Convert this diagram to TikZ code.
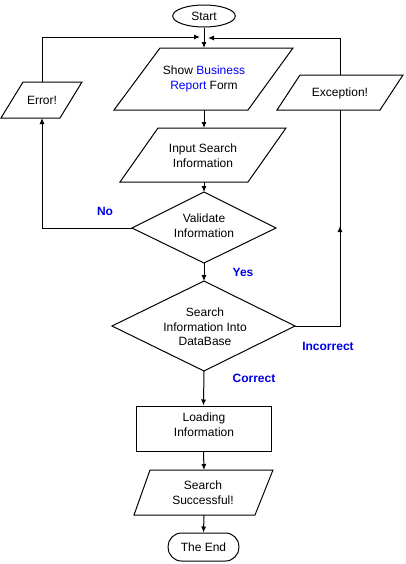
\documentclass[tikz,border=0pt]{standalone}
\usepackage{fontspec}
\setmainfont{Liberation Sans}
\usetikzlibrary{arrows.meta,shapes.geometric}
\definecolor{lblblue}{RGB}{0,0,230}
\begin{document}
\begin{tikzpicture}[x=0.75pt,y=-0.75pt,line width=0.75pt,
  >={Latex[length=4.5pt,width=3.8pt]},
  font=\fontsize{9}{11}\selectfont,
  txt/.style={align=center,inner sep=0pt},
  shapeline/.style={draw=black,line width=0.75pt,line join=miter},
  lbl/.style={text=lblblue,font=\fontsize{9}{11}\selectfont\bfseries,inner sep=0pt},
  conn/.style={draw=black,line width=0.75pt}]
\useasboundingbox (0,0) rectangle (405,564);

% Start
\node[shapeline,ellipse,minimum width=47pt,minimum height=16.5pt,inner sep=0pt] (start) at (204,16) {Start};

% Show Business Report Form
\draw[shapeline] (160,48) -- (293,48) -- (248,110) -- (114,110) -- cycle;
\node[txt] (show) at (204,79) {Show \textcolor{blue}{Business}\\\textcolor{blue}{Report} Form};
\coordinate (show-t) at (204,48);
\coordinate (show-b) at (204,110);

% Error!
\draw[shapeline] (23,82) -- (82,82) -- (60,118) -- (1,118) -- cycle;
\node[txt] (err) at (42,100) {Error!};
\coordinate (err-t) at (42,82);
\coordinate (err-b) at (42,118);

% Exception!
\draw[shapeline] (300,75) -- (403,75) -- (380,110) -- (277,110) -- cycle;
\node[txt] (exc) at (340,93) {Exception!};
\coordinate (exc-t) at (340,75);
\coordinate (exc-b) at (340,110);

% Input Search Information
\draw[shapeline] (158,128) -- (286,128) -- (248,182) -- (120,182) -- cycle;
\node[txt] (inp) at (203,156) {Input Search\\Information};
\coordinate (inp-t) at (204,128);
\coordinate (inp-b) at (204,182);

% Validate diamond
\draw[shapeline] (204,192) -- (276,228) -- (204,263) -- (132,228) -- cycle;
\node[txt] (val) at (204,226) {Validate\\Information};
\coordinate (val-t) at (204,192);
\coordinate (val-l) at (132,228);
\coordinate (val-b) at (204,263);

% Search diamond
\draw[shapeline] (204,281) -- (295,326) -- (204,371) -- (112,326) -- cycle;
\node[txt] (srch) at (205,327) {Search\\Information Into\\DataBase};
\coordinate (srch-t) at (204,281);
\coordinate (srch-r) at (295,326);
\coordinate (srch-b) at (204,371);

% Loading Information
\node[shapeline,rectangle,minimum width=101.25pt,minimum height=33.75pt,inner sep=0pt] (load) at (203.5,428.5) {};
\node[txt] (loadtxt) at (204,424.5) {Loading\\Information};

% Search Successful
\draw[shapeline] (150,470) -- (273,470) -- (255,515) -- (134,515) -- cycle;
\node[txt] (succ) at (203,492.5) {Search\\Successful!};
\coordinate (succ-t) at (204,470);
\coordinate (succ-b) at (204,515);

% The End
\node[shapeline,rectangle,rounded corners=10pt,minimum width=53pt,minimum height=21pt,inner sep=0pt] (end) at (203.5,547) {The End};

% junction points
\coordinate (jl) at (200,37);
\coordinate (jr) at (208,38);
\coordinate (cr) at (340,326);
\coordinate (exc-mid) at (340,226);

% connectors
\draw[conn,->] (start.south) -- (show-t);
\draw[conn,->] (err-t) |- (jl);
\draw[conn,->] (exc-t) |- (jr);
\draw[conn,->] (show-b) -- (inp-t);
\draw[conn,->] (inp-b) -- (val-t);
\draw[conn,->] (val-l) -| (err-b);
\draw[conn,->] (val-b) -- (srch-t);
\draw[conn] (srch-r) -- (cr) -- (exc-b);
\draw[conn,->] (cr) -- (exc-mid);
\draw[conn,->] (srch-b) -- (load.north);
\draw[conn,->] (load.south) -- (succ-t);
\draw[conn,->] (succ-b) -- (end.north);

% labels
\node[lbl] (lno) at (105,211) {No};
\node[lbl] (lyes) at (243,272) {Yes};
\node[lbl] (linc) at (328,346) {Incorrect};
\node[lbl] (lcor) at (254,378) {Correct};
\end{tikzpicture}
\end{document}
